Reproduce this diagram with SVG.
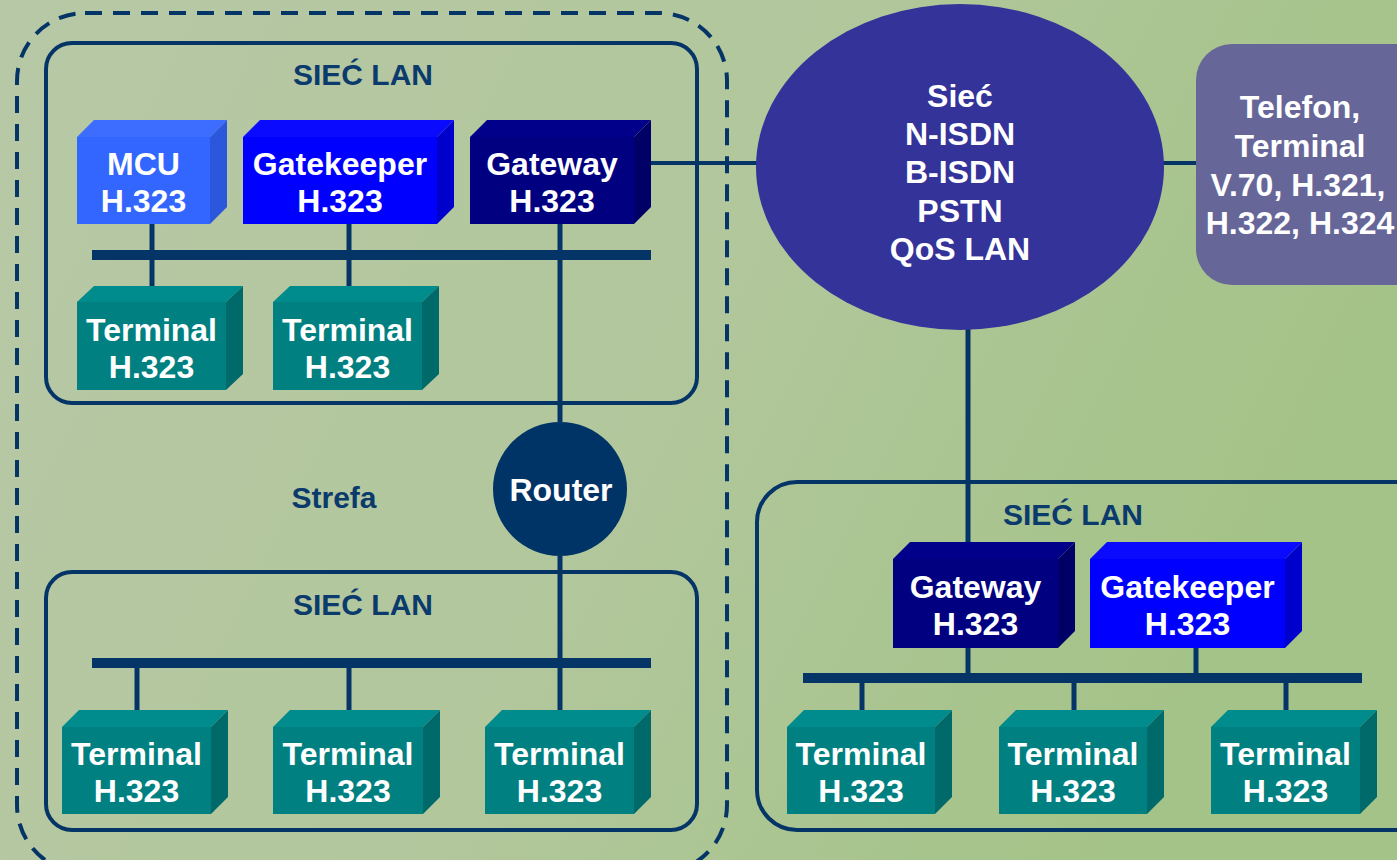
<svg xmlns="http://www.w3.org/2000/svg" width="1397" height="860" viewBox="0 0 1397 860">
<defs>
<linearGradient id="bg" x1="0" y1="0" x2="1" y2="0.3">
<stop offset="0" stop-color="#b7c8a6"/>
<stop offset="0.55" stop-color="#b2c79c"/>
<stop offset="1" stop-color="#a4c388"/>
</linearGradient>
</defs>
<style>
.lan{fill:none;stroke:#053566;stroke-width:4}
.zone{fill:none;stroke:#053566;stroke-width:4;stroke-dasharray:17 11}
.bus{stroke:#053566;stroke-width:10}
.ln{stroke:#053566;stroke-width:5}
.ln4{stroke:#053566;stroke-width:4}
.t{font-family:"Liberation Sans",Arial,sans-serif;font-weight:bold;font-size:32px;fill:#fff;text-anchor:middle}
.ttl{font-family:"Liberation Sans",Arial,sans-serif;font-weight:bold;font-size:30px;fill:#0b3a6c;text-anchor:middle}
.mcu-f{fill:#3366ff}.mcu-t{fill:#3c6dff}.mcu-s{fill:#2b57dc}
.gk-f{fill:#0000ff}.gk-t{fill:#0a0aff}.gk-s{fill:#0000cc}
.gw-f{fill:#000080}.gw-t{fill:#00008a}.gw-s{fill:#000066}
.tm-f{fill:#008080}.tm-t{fill:#008c8c}.tm-s{fill:#006a6a}
</style>
<rect x="0" y="0" width="1397" height="860" fill="url(#bg)"/>

<g id="zone">
<rect class="zone" x="17" y="13" width="710" height="860" rx="68" ry="68"/>
<text class="ttl" x="334" y="508">Strefa</text>
</g>

<g id="lan-top">
<rect class="lan" x="46" y="43" width="651" height="360" rx="26" ry="26"/>
<text class="ttl" x="363" y="85">SIEĆ LAN</text>
</g>
<g id="lan-bottom">
<rect class="lan" x="46" y="572" width="651" height="258" rx="26" ry="26"/>
<text class="ttl" x="363" y="615">SIEĆ LAN</text>
</g>
<g id="lan-right">
<rect class="lan" x="757" y="482" width="700" height="348" rx="40" ry="40"/>
<text class="ttl" x="1073" y="525">SIEĆ LAN</text>
</g>

<g id="connectors">
<line class="bus" x1="92" y1="255" x2="651" y2="255"/>
<line class="bus" x1="92" y1="663" x2="651" y2="663"/>
<line class="bus" x1="803" y1="678" x2="1362" y2="678"/>
<line class="ln" x1="152" y1="224" x2="152" y2="302"/>
<line class="ln" x1="349" y1="224" x2="349" y2="302"/>
<line class="ln" x1="560" y1="224" x2="560" y2="422"/>
<line class="ln" x1="560" y1="556" x2="560" y2="727"/>
<line class="ln" x1="137" y1="663" x2="137" y2="727"/>
<line class="ln" x1="349" y1="663" x2="349" y2="727"/>
<line class="ln4" x1="651" y1="163" x2="760" y2="163"/>
<line class="ln4" x1="1160" y1="163" x2="1197" y2="163"/>
<line class="ln" x1="968" y1="325" x2="968" y2="559"/>
<line class="ln" x1="1196" y1="648" x2="1196" y2="678"/>
<line class="ln" x1="968" y1="648" x2="968" y2="678"/>
<line class="ln" x1="862" y1="678" x2="862" y2="727"/>
<line class="ln" x1="1074" y1="678" x2="1074" y2="727"/>
<line class="ln" x1="1286" y1="678" x2="1286" y2="727"/>
</g>

<g id="mcu">
<polygon class="mcu-t" points="77,137 94,120 227,120 210,137"/>
<polygon class="mcu-s" points="210,137 227,120 227,207 210,224"/>
<rect class="mcu-f" x="77" y="137" width="133" height="87"/>
<text class="t" x="143.5" y="175">MCU</text>
<text class="t" x="143.5" y="212">H.323</text>
</g>
<g id="gatekeeper-top">
<polygon class="gk-t" points="243,137 260,120 454,120 437,137"/>
<polygon class="gk-s" points="437,137 454,120 454,207 437,224"/>
<rect class="gk-f" x="243" y="137" width="194" height="87"/>
<text class="t" x="340" y="175">Gatekeeper</text>
<text class="t" x="340" y="212">H.323</text>
</g>
<g id="gateway-top">
<polygon class="gw-t" points="470,137 487,120 651,120 634,137"/>
<polygon class="gw-s" points="634,137 651,120 651,207 634,224"/>
<rect class="gw-f" x="470" y="137" width="164" height="87"/>
<text class="t" x="552" y="175">Gateway</text>
<text class="t" x="552" y="212">H.323</text>
</g>
<g id="terminal-t1">
<polygon class="tm-t" points="77,302 94,286 243,286 226,302"/>
<polygon class="tm-s" points="226,302 243,286 243,374 226,390"/>
<rect class="tm-f" x="77" y="302" width="149" height="88"/>
<text class="t" x="151.5" y="341">Terminal</text>
<text class="t" x="151.5" y="378">H.323</text>
</g>
<g id="terminal-t2">
<polygon class="tm-t" points="273,302 290,286 439,286 422,302"/>
<polygon class="tm-s" points="422,302 439,286 439,374 422,390"/>
<rect class="tm-f" x="273" y="302" width="149" height="88"/>
<text class="t" x="347.5" y="341">Terminal</text>
<text class="t" x="347.5" y="378">H.323</text>
</g>

<g id="router">
<circle cx="560" cy="489" r="67" fill="#003366"/>
<text class="t" x="561" y="501">Router</text>
</g>

<g id="terminal-b1">
<polygon class="tm-t" points="62,727 79,710 228,710 211,727"/>
<polygon class="tm-s" points="211,727 228,710 228,797 211,814"/>
<rect class="tm-f" x="62" y="727" width="149" height="87"/>
<text class="t" x="136.5" y="765">Terminal</text>
<text class="t" x="136.5" y="802">H.323</text>
</g>
<g id="terminal-b2">
<polygon class="tm-t" points="273,727 290,710 440,710 423,727"/>
<polygon class="tm-s" points="423,727 440,710 440,797 423,814"/>
<rect class="tm-f" x="273" y="727" width="150" height="87"/>
<text class="t" x="348" y="765">Terminal</text>
<text class="t" x="348" y="802">H.323</text>
</g>
<g id="terminal-b3">
<polygon class="tm-t" points="485,727 502,710 651,710 634,727"/>
<polygon class="tm-s" points="634,727 651,710 651,797 634,814"/>
<rect class="tm-f" x="485" y="727" width="149" height="87"/>
<text class="t" x="559.5" y="765">Terminal</text>
<text class="t" x="559.5" y="802">H.323</text>
</g>

<g id="network">
<ellipse cx="960" cy="167" rx="204" ry="163" fill="#333399"/>
<text class="t" x="960" y="107">Sieć</text>
<text class="t" x="960" y="145">N-ISDN</text>
<text class="t" x="960" y="183">B-ISDN</text>
<text class="t" x="960" y="222">PSTN</text>
<text class="t" x="960" y="260">QoS LAN</text>
</g>

<g id="telefon">
<rect x="1196" y="44" width="240" height="241" rx="36" ry="36" fill="#666699"/>
<text class="t" x="1300" y="118">Telefon,</text>
<text class="t" x="1300" y="157">Terminal</text>
<text class="t" x="1298" y="196">V.70, H.321,</text>
<text class="t" x="1300" y="234">H.322, H.324</text>
</g>

<g id="gateway-right">
<polygon class="gw-t" points="893,559 910,542 1075,542 1058,559"/>
<polygon class="gw-s" points="1058,559 1075,542 1075,631 1058,648"/>
<rect class="gw-f" x="893" y="559" width="165" height="89"/>
<text class="t" x="975.5" y="598">Gateway</text>
<text class="t" x="975.5" y="635">H.323</text>
</g>
<g id="gatekeeper-right">
<polygon class="gk-t" points="1090,559 1107,542 1302,542 1285,559"/>
<polygon class="gk-s" points="1285,559 1302,542 1302,631 1285,648"/>
<rect class="gk-f" x="1090" y="559" width="195" height="89"/>
<text class="t" x="1187.5" y="598">Gatekeeper</text>
<text class="t" x="1187.5" y="635">H.323</text>
</g>

<g id="terminal-r1">
<polygon class="tm-t" points="787,727 804,710 952,710 935,727"/>
<polygon class="tm-s" points="935,727 952,710 952,797 935,814"/>
<rect class="tm-f" x="787" y="727" width="148" height="87"/>
<text class="t" x="861" y="765">Terminal</text>
<text class="t" x="861" y="802">H.323</text>
</g>
<g id="terminal-r2">
<polygon class="tm-t" points="999,727 1016,710 1164,710 1147,727"/>
<polygon class="tm-s" points="1147,727 1164,710 1164,797 1147,814"/>
<rect class="tm-f" x="999" y="727" width="148" height="87"/>
<text class="t" x="1073" y="765">Terminal</text>
<text class="t" x="1073" y="802">H.323</text>
</g>
<g id="terminal-r3">
<polygon class="tm-t" points="1211,727 1228,710 1377,710 1360,727"/>
<polygon class="tm-s" points="1360,727 1377,710 1377,797 1360,814"/>
<rect class="tm-f" x="1211" y="727" width="149" height="87"/>
<text class="t" x="1285.5" y="765">Terminal</text>
<text class="t" x="1285.5" y="802">H.323</text>
</g>
</svg>
